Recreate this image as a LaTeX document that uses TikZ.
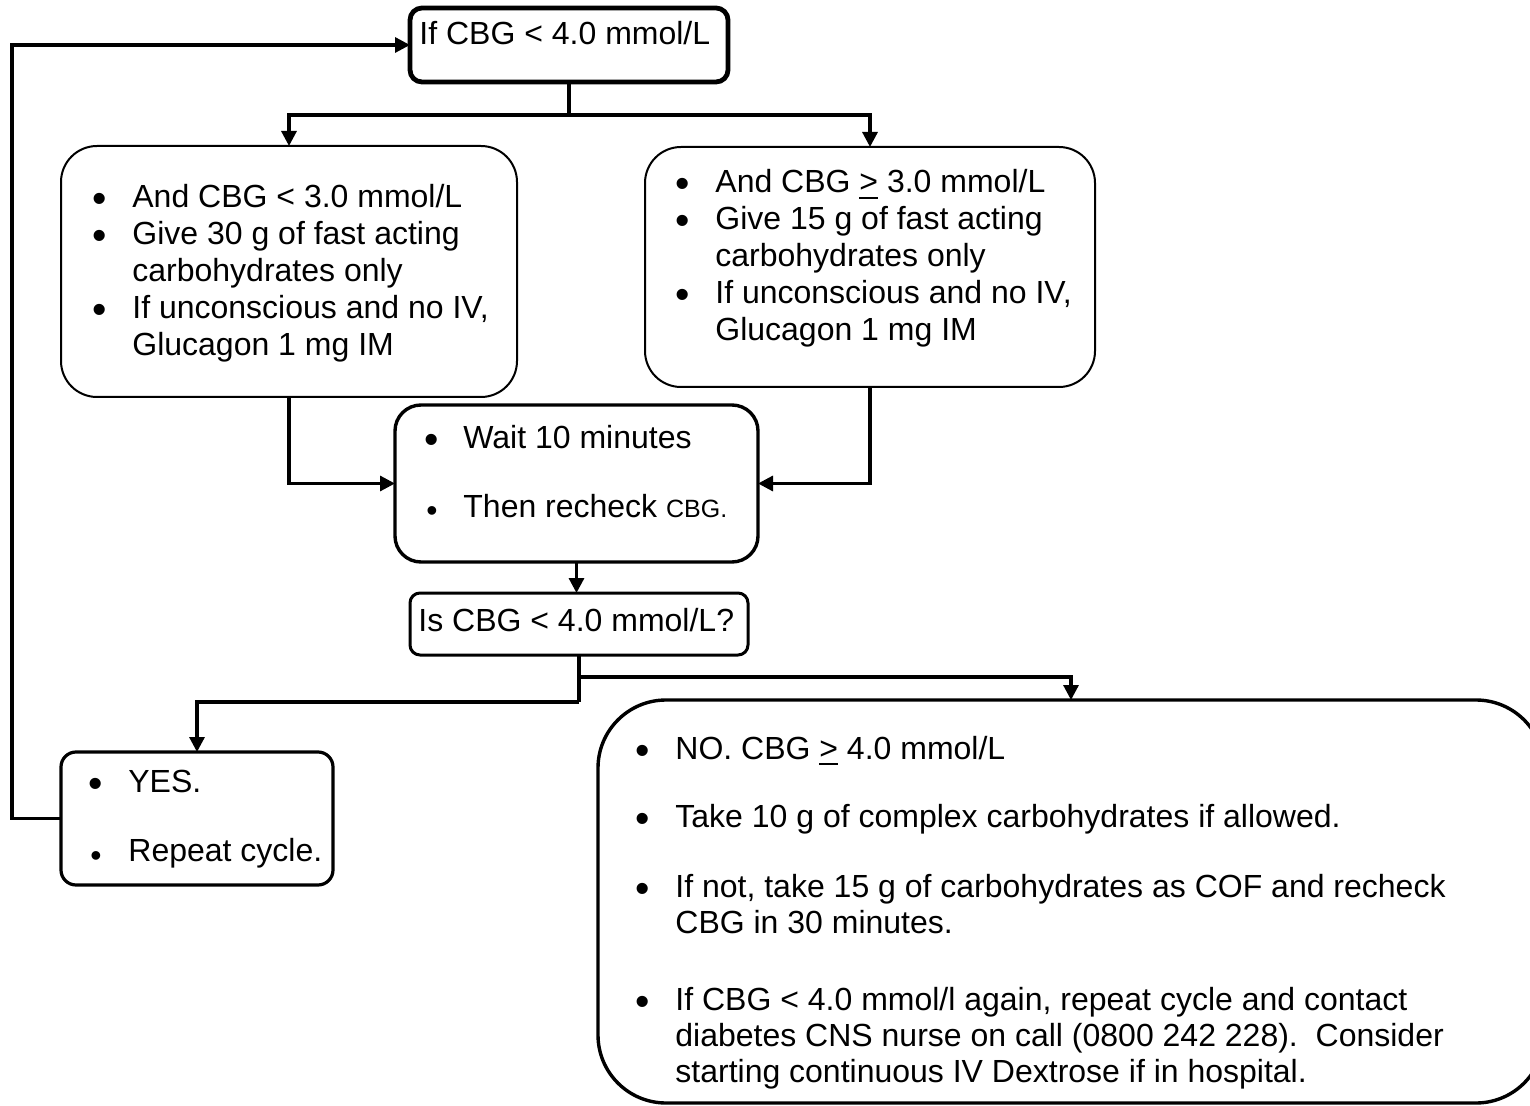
\documentclass[tikz,border=0pt]{standalone}
\usepackage{fontspec}
\setmainfont{Liberation Sans}
\usetikzlibrary{arrows.meta,fit}
\newcommand\ulgt{\leavevmode\setbox0\hbox{>}\rlap{\rule[-2.8pt]{\wd0}{1pt}}\box0}
\frenchspacing
\begin{document}
\begin{tikzpicture}[x=0.5pt,y=-0.5pt,
  flowbox/.style={draw, rounded corners=#1, inner sep=0pt, outer sep=0pt},
  wire/.style={line width=1.6pt},
  conn/.style={line width=1.6pt, -{Triangle[length=7.5pt,width=7.5pt]}},
  txt/.style={anchor=base west, inner sep=0pt, font=\fontsize{16}{18}\selectfont},
  bul/.style={anchor=base, inner sep=0pt, font=\fontsize{20.5}{22}\selectfont},
  sbul/.style={anchor=base, inner sep=0pt, font=\fontsize{16}{18}\selectfont}]
\useasboundingbox (0,0) rectangle (1530,1106);
% boxes
\node[flowbox=6pt, line width=2.4pt, fit={(410,8) (728,82)}] (top) {};
\node[flowbox=18pt, line width=1pt, fit={(61,146) (517,397)}] (lbox) {};
\node[flowbox=18pt, line width=1pt, fit={(645,147) (1095,387)}] (rbox) {};
\node[flowbox=13pt, line width=1.7pt, fit={(395,405) (758,562)}] (wait) {};
\node[flowbox=5pt, line width=1.5pt, fit={(410,593) (748,655)}] (is) {};
\node[flowbox=7.5pt, line width=1.6pt, fit={(61,752) (333,885)}] (yes) {};
\begin{scope}
\clip (0,0) rectangle (1530,1106);
\node[flowbox=34pt, line width=1.7pt, fit={(598,700) (1544,1103)}] (big) {};
\end{scope}
% connectors
\draw[wire] (top.south) -- ++(0,33) coordinate (split1);
\draw[conn] (split1) -| (lbox.north);
\draw[conn] (split1) -| (rbox.north);
\draw[conn] (lbox.south) |- (wait.west);
\draw[conn] (rbox.south) |- (wait.east);
\draw[conn] (wait.south) -- (wait.south |- is.north);
\draw[wire] (is.south) -- ++(0,47) coordinate (split3);
\draw[conn] (split3) -| (yes.north);
\draw[conn] (is.south) ++(0,22) -| (big.north);
\draw[conn] (yes.west) -- ++(-49,0) |- (top.west);
% top text
\node[txt] (t0) at (419,45) {If CBG < 4.0 mmol/L};
% left box
\node[bul] (lb1) at (100,213) {•};
\node[txt] (l1) at (132,208) {And CBG < 3.0 mmol/L};
\node[bul] (lb2) at (100,250) {•};
\node[txt] (l2) at (132,245) {Give 30 g of fast acting};
\node[txt] (l3) at (132,282) {carbohydrates only};
\node[bul] (lb4) at (100,324) {•};
\node[txt] (l4) at (132,319) {If unconscious and no IV,};
\node[txt] (l5) at (132,356) {Glucagon 1 mg IM};
% right box
\node[bul] (rb1) at (683,198) {•};
\node[txt] (r1) at (715,193) {And CBG \ulgt{} 3.0 mmol/L};
\node[bul] (rb2) at (683,235) {•};
\node[txt] (r2) at (715,230) {Give 15 g of fast acting};
\node[txt] (r3) at (715,267) {carbohydrates only};
\node[bul] (rb4) at (683,309) {•};
\node[txt] (r4) at (715,304) {If unconscious and no IV,};
\node[txt] (r5) at (715,341) {Glucagon 1 mg IM};
% wait box
\node[bul] (wb1) at (432,454) {•};
\node[txt] (w1) at (463,449) {Wait 10 minutes};
\node[sbul] (wb2) at (432,522) {•};
\node[txt] (w2) at (463,517) {Then recheck {\fontsize{12.5}{14}\selectfont CBG.}};
% is box
\node[txt] (i1) at (418,631) {Is CBG < 4.0 mmol/L?};
% yes box
\node[bul] (yb1) at (96,797) {•};
\node[txt] (y1) at (128,792) {YES.};
\node[sbul] (yb2) at (96,866) {•};
\node[txt] (y2) at (128,861) {Repeat cycle.};
% big box
\node[bul] (bb1) at (643,764) {•};
\node[txt] (b1) at (675,759) {NO. CBG \ulgt{} 4.0 mmol/L};
\node[bul] (bb2) at (643,832) {•};
\node[txt] (b2) at (675,827) {Take 10 g of complex carbohydrates if allowed.};
\node[bul] (bb3) at (643,902) {•};
\node[txt] (b3) at (675,897) {If not, take 15 g of carbohydrates as COF and recheck};
\node[txt] (b4) at (675,933) {CBG in 30 minutes.};
\node[bul] (bb5) at (643,1015) {•};
\node[txt] (b5) at (675,1010) {If CBG < 4.0 mmol/l again, repeat cycle and contact};
\node[txt] (b6) at (675,1046) {diabetes CNS nurse on call (0800 242 228).\ \ Consider};
\node[txt] (b7) at (675,1082) {starting continuous IV Dextrose if in hospital.};
\end{tikzpicture}
\end{document}
